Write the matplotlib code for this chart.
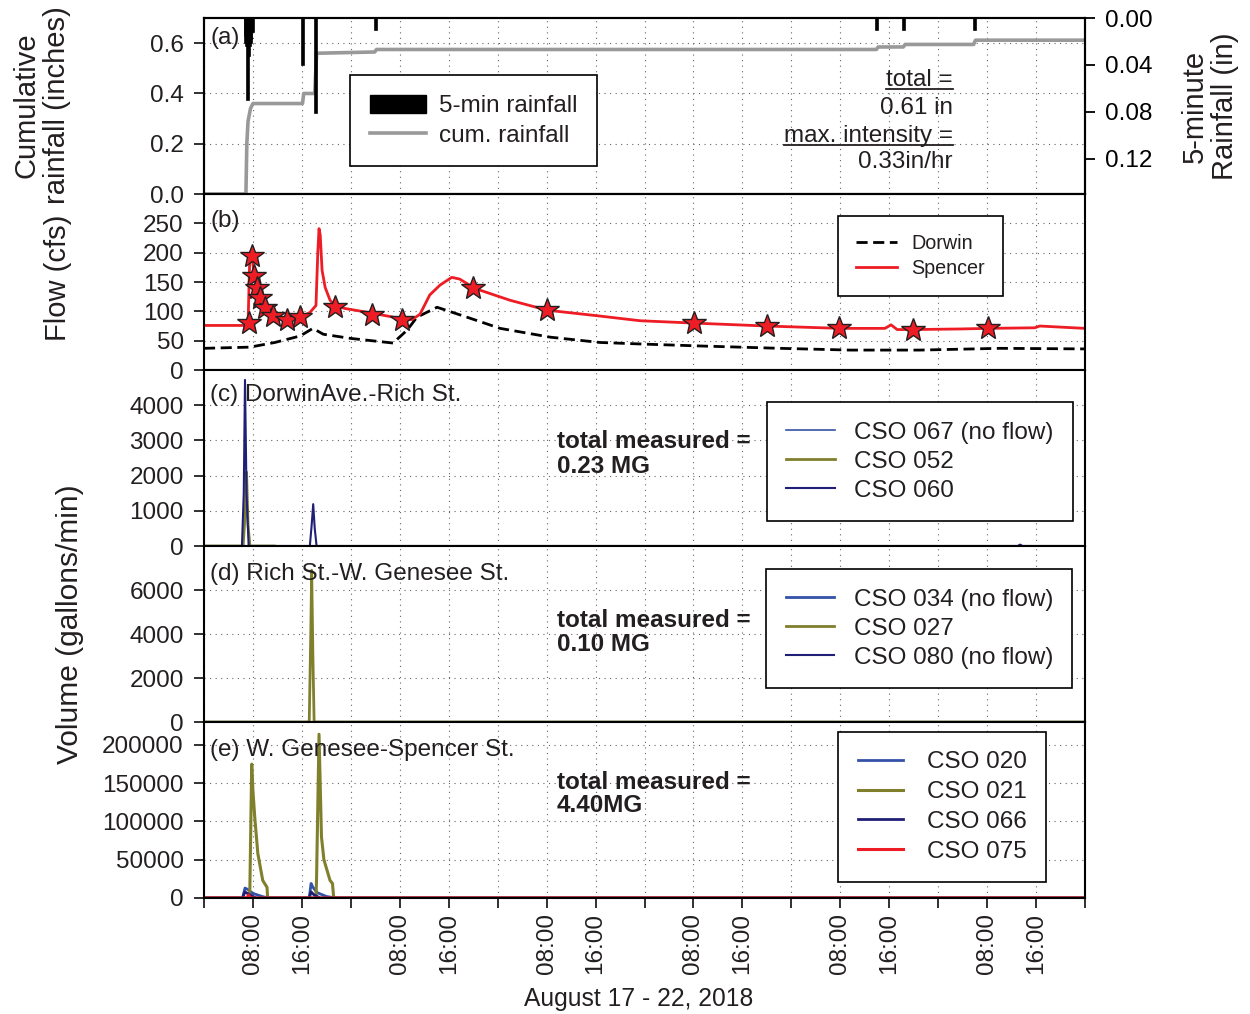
import numpy as np
import matplotlib
matplotlib.use("Agg")
import matplotlib.pyplot as plt
from matplotlib.patches import Patch
from matplotlib.lines import Line2D

plt.rcParams['font.family'] = ['Liberation Sans', 'DejaVu Sans']
plt.rcParams['text.color'] = '#231f20'

# time axis: hours since Aug 17 2018 00:00
T_END = 144

# (a) rainfall
rain_t = [6.75, 6.9, 7.05, 7.2, 7.35, 7.5, 7.65, 7.8, 8.0, 16.2, 18.3, 28.1, 110.0, 114.4, 126.0]
rain_v = [0.015, 0.021, 0.024, 0.070, 0.032, 0.024, 0.021, 0.018, 0.012, 0.040, 0.081, 0.010, 0.010, 0.010, 0.010]
cum_t = [0, 6.85, 7.0, 7.2, 7.6, 8.0, 16.1, 16.3, 18.1, 18.4, 27.9, 28.2, 109.9, 110.2, 114.3, 114.6, 125.8, 126.1, 144]
cum_v = [0, 0, 0.20, 0.29, 0.34, 0.36, 0.36, 0.40, 0.40, 0.56, 0.565, 0.575, 0.575, 0.585, 0.585, 0.595, 0.595, 0.612, 0.612]

# (b) flow
spencer_t = [0, 7.2, 7.35, 7.5, 7.85, 8.2, 8.7, 9.15, 10.0, 11.3, 13.6, 15.7, 17.3, 18.3, 18.6, 18.8, 19.0,
             19.3, 19.8, 20.6, 21.4, 23.0, 27.5, 32.0, 34.0, 35.3, 36.9, 38.6, 40.5, 41.8, 44.3, 50.0,
             56.1, 64.7, 71.3, 80.1, 92.0, 104.0, 111.3, 112.3, 113.3, 115.9, 123.6, 128.1, 135.8, 136.6, 144]
spencer_v = [76, 76, 140, 200, 195, 161, 139, 122, 105, 92, 86, 90, 98, 110, 200, 241, 230,
             170, 141, 119, 110, 105, 97, 88, 86, 95, 128, 145, 158, 155, 139, 119,
             102, 92, 84, 80, 75, 71, 71, 77, 69, 69, 70, 71, 72, 75, 71]
star_t = [7.36, 7.85, 8.2, 8.7, 9.15, 10.0, 11.3, 13.6, 15.7, 21.4, 27.5, 32.4, 44.0, 56.1, 80.1, 92.0, 103.8, 115.9, 128.1]
star_v = [80, 195, 161, 139, 122, 105, 92, 86, 90, 107, 93, 86, 139, 102, 80, 75, 71, 69, 71]
dorwin_t = [0, 7.5, 11.6, 15.7, 17.8, 19.5, 23.9, 30.9, 33.2, 34.8, 38.1, 43.0, 48.4, 56.6, 64.7,
            72.4, 81.1, 94.1, 105.6, 117.0, 130.1, 144]
dorwin_v = [37, 39, 47, 58, 71, 61, 54, 46, 68, 90, 107, 90, 71, 56, 47,
            44, 41, 37, 34, 34, 37, 36]

# (c) DorwinAve.-Rich St.
c067_t = [0, 144]
c067_v = [0, 0]
c052_t = [0, 6.4, 6.75, 6.95, 7.2, 7.5, 11.5]
c052_v = [0, 0, 1000, 2100, 600, 0, 0]
c060_t = [0, 6.2, 6.5, 6.7, 6.95, 7.3, 17.3, 17.6, 17.85, 18.1, 18.4, 133.0, 133.4, 133.8, 144]
c060_v = [0, 0, 1500, 4720, 1500, 0, 0, 600, 1190, 500, 0, 0, 40, 0, 0]

# (d) Rich St.-W. Genesee St.
d034_t = [0, 144]
d034_v = [0, 0]
d027_t = [0, 17.2, 17.45, 17.6, 17.8, 18.0, 144]
d027_v = [0, 0, 4000, 6900, 3000, 0, 0]
d080_t = [0, 144]
d080_v = [0, 0]

# (e) W. Genesee-Spencer St.
e020_t = [0, 6.3, 6.7, 7.2, 8.0, 9.5, 10.5, 17.2, 17.5, 17.8, 18.5, 20.0, 21.5, 144]
e020_v = [0, 0, 13000, 11000, 6000, 2000, 0, 0, 19000, 14000, 7000, 2000, 0, 0]
e021_t = [0, 7.4, 7.5, 7.8, 8.0, 8.3, 8.8, 9.6, 10.3, 10.4, 18.3, 18.4, 18.8, 19.2, 19.6, 20.6, 21.0, 21.2, 144]
e021_v = [0, 0, 14000, 175000, 140000, 105000, 58000, 23000, 14000, 0, 0, 26000, 214000, 80000, 50000, 23000, 19000, 0, 0]
e066_t = [0, 6.3, 6.7, 7.3, 8.5, 17.2, 17.5, 18.0, 19.0, 144]
e066_v = [0, 0, 8000, 5000, 0, 0, 8000, 4000, 0, 0]
e075_t = [0, 7.0, 7.3, 7.6, 144]
e075_v = [0, 0, 4000, 0, 0]

OLIVE = '#7f7f2c'
NAVY = '#1f1f78'
BLUE = '#3352a8'
RED = '#ee1c24'
FS = 17.5
LEG = dict(loc='upper left', fancybox=False, edgecolor='k', framealpha=1, borderaxespad=0)

fig, axes = plt.subplots(5, 1, figsize=(12.5, 10.14), dpi=100, sharex=True,
                         gridspec_kw=dict(hspace=0))
fig.subplots_adjust(left=0.1632, right=0.868, top=0.9822, bottom=0.1144)

ticks = np.arange(0, T_END + 1, 8)
labels = []
for t in ticks:
    h = t % 24
    labels.append('08:00' if h == 8 else ('16:00' if h == 16 else ''))

for ax in axes:
    ax.set_xlim(0, T_END)
    ax.set_xticks(ticks)
    ax.grid(True, linestyle=(0, (1, 4)), color='#666666', linewidth=0.8)
    ax.tick_params(axis='both', direction='out', labelsize=FS, width=1.3, length=7, colors='#231f20')
    ax.tick_params(axis='y', pad=7.5)
    for s in ax.spines.values():
        s.set_linewidth(1.5)
axes[-1].set_xticklabels(labels, rotation=90, fontsize=17.5)

# (a)
ax = axes[0]
ax.plot(cum_t, cum_v, color='#999999', lw=2.6)
ax.set_ylim(0, 0.7)
ax.set_yticks([0, 0.2, 0.4, 0.6])
ax.set_yticklabels(['0.0', '0.2', '0.4', '0.6'])
ax2 = ax.twinx()
ax2.bar(rain_t, rain_v, width=0.25, color='k', edgecolor='k', linewidth=1.2)
ax2.set_ylim(0.15, 0)
ax2.set_yticks([0, 0.04, 0.08, 0.12])
ax2.set_yticklabels(['0.00', '0.04', '0.08', '0.12'])
ax2.tick_params(axis='y', direction='out', labelsize=FS, width=1.3, length=7, pad=7.5)
for s in ax2.spines.values():
    s.set_linewidth(1.5)
ax.text(0.007, 0.886, '(a)', transform=ax.transAxes, fontsize=FS, va='center')
leg = ax.legend([Patch(facecolor='k', edgecolor='k'), Line2D([], [], color='#999999', lw=2.6)],
                ['5-min rainfall', 'cum. rainfall'], bbox_to_anchor=(0.166, 0.674),
                fontsize=17.5, handlelength=2.3, handleheight=0.75, labelspacing=0.3, borderpad=0.8,
                handletextpad=0.55, **LEG)
leg.get_frame().set_linewidth(1.2)
leg.set_zorder(5)
ann = []
for y, s in [(0.646, 'total ='), (0.491, '0.61 in'), (0.331, 'max. intensity ='), (0.183, '0.33in/hr')]:
    ann.append(ax.text(0.850, y, s, transform=ax.transAxes, fontsize=17.5, ha='right', va='center'))

# (b)
ax = axes[1]
ax.plot(dorwin_t, dorwin_v, color='k', lw=2, linestyle=(0, (4, 2)), label='Dorwin')
ax.plot(spencer_t, spencer_v, color=RED, lw=2, label='Spencer')
ax.plot(star_t, star_v, linestyle='none', marker='*', ms=18, mfc=RED, mec='#231f20', mew=1)
ax.set_ylim(0, 300)
ax.set_yticks(np.arange(0, 251, 50))
ax.text(0.007, 0.847, '(b)', transform=ax.transAxes, fontsize=FS, va='center')
leg = ax.legend(bbox_to_anchor=(0.72, 0.876), fontsize=14.2, handlelength=2.1, labelspacing=0.32,
                borderpad=0.9, handletextpad=0.7, **LEG)
leg.get_frame().set_linewidth(1.2)

# (c)
ax = axes[2]
ax.plot(c067_t, c067_v, color=BLUE, lw=1.2, label='CSO 067 (no flow)')
ax.plot(c052_t, c052_v, color=OLIVE, lw=2, label='CSO 052')
ax.plot(c060_t, c060_v, color=NAVY, lw=1.5, label='CSO 060')
ax.set_ylim(0, 5000)
ax.set_yticks(np.arange(0, 4001, 1000))
ax.text(0.007, 0.858, '(c) DorwinAve.-Rich St.', transform=ax.transAxes, fontsize=FS, va='center')
ax.text(0.4007, 0.523, 'total measured =\n0.23 MG', transform=ax.transAxes, fontsize=17.5,
        fontweight='bold', va='center', linespacing=1.1)
leg = ax.legend(bbox_to_anchor=(0.639, 0.818), fontsize=17.5, handlelength=2.0, labelspacing=0.29,
                borderpad=0.8, handletextpad=0.8, **LEG)
leg.get_frame().set_linewidth(1.2)

# (d)
ax = axes[3]
ax.plot(d034_t, d034_v, color=BLUE, lw=2, label='CSO 034 (no flow)')
ax.plot(d027_t, d027_v, color=OLIVE, lw=2, label='CSO 027')
ax.plot(d080_t, d080_v, color=NAVY, lw=1.5, label='CSO 080 (no flow)')
ax.set_ylim(0, 8000)
ax.set_yticks(np.arange(0, 6001, 2000))
ax.text(0.007, 0.84, '(d) Rich St.-W. Genesee St.', transform=ax.transAxes, fontsize=FS, va='center')
ax.text(0.4007, 0.509, 'total measured =\n0.10 MG', transform=ax.transAxes, fontsize=17.5,
        fontweight='bold', va='center', linespacing=1.1)
leg = ax.legend(bbox_to_anchor=(0.638, 0.869), fontsize=17.5, handlelength=2.0, labelspacing=0.29,
                borderpad=0.8, handletextpad=0.8, **LEG)
leg.get_frame().set_linewidth(1.2)

# (e)
ax = axes[4]
ax.plot(e020_t, e020_v, color=BLUE, lw=2, label='CSO 020')
ax.plot(e021_t, e021_v, color=OLIVE, lw=2.2, label='CSO 021')
ax.plot(e066_t, e066_v, color=NAVY, lw=2, label='CSO 066')
ax.plot(e075_t, e075_v, color=RED, lw=2.2, label='CSO 075')
ax.set_ylim(0, 230000)
ax.set_yticks(np.arange(0, 200001, 50000))
ax.text(0.007, 0.842, '(e) W. Genesee-Spencer St.', transform=ax.transAxes, fontsize=FS, va='center')
ax.text(0.4007, 0.593, 'total measured =\n4.40MG', transform=ax.transAxes, fontsize=17.5,
        fontweight='bold', va='center', linespacing=1.0)
leg = ax.legend(bbox_to_anchor=(0.72, 0.944), fontsize=17.5, handlelength=1.85, labelspacing=0.32,
                borderpad=0.8, handletextpad=1.0, **LEG)
leg.get_frame().set_linewidth(1.2)

# axis titles
fig.text(0.0336, 0.896, 'Cumulative\nrainfall (inches)', rotation=90, ha='center', va='center',
         fontsize=21, linespacing=1.1)
fig.text(0.0464, 0.726, 'Flow (cfs)', rotation=90, ha='center', va='center', fontsize=21)
fig.text(0.056, 0.3846, 'Volume (gallons/min)', rotation=90, ha='center', va='center', fontsize=21.5)
fig.text(0.968, 0.895, '5-minute\nRainfall (in)', rotation=90, ha='center', va='center',
         fontsize=21, linespacing=1.1)
fig.text(0.511, 0.0148, 'August 17 - 22, 2018', ha='center', va='center', fontsize=17.7)

# underline the two rainfall headings
fig.canvas.draw()
r = fig.canvas.get_renderer()
for t in (ann[0], ann[2]):
    bb = t.get_window_extent(r)
    x0, x1 = bb.x0 / fig.bbox.width, bb.x1 / fig.bbox.width
    yb = (bb.y0 + 2) / fig.bbox.height
    fig.add_artist(Line2D([x0, x1], [yb, yb], color='#231f20', lw=1.3))

fig.savefig('out.png', dpi=100)
